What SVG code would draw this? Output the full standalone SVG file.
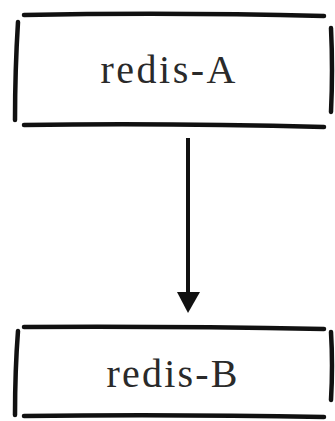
<svg xmlns="http://www.w3.org/2000/svg" width="335" height="421" viewBox="0 0 335 421">
<style>
.s{fill:none;stroke:#111;stroke-width:4.5;stroke-linecap:round;}
.t{font-family:"Liberation Serif","Times New Roman",serif;font-size:40px;fill:#2a2a2a;text-anchor:middle;}
</style>
<rect width="335" height="421" fill="#fff"/>
<g id="redis-A">
<path class="s" d="M24,15 Q170,12 324,16"/>
<path class="s" d="M18,22 Q15,70 15,120"/>
<path class="s" d="M24,125 Q170,123 324,127"/>
<path class="s" d="M331,28 Q333,70 331,112"/>
<text class="t" x="168" y="83" textLength="135" lengthAdjust="spacing">redis-A</text>
</g>
<g id="redis-B">
<path class="s" d="M24,327 Q170,326 324,329"/>
<path class="s" d="M18,331 Q15,370 15,415"/>
<path class="s" d="M24,416 Q170,414 324,417"/>
<path class="s" d="M331,332 Q333,365 331,400"/>
<text class="t" x="172" y="387" textLength="131" lengthAdjust="spacing">redis-B</text>
</g>
<g id="connectors">
<path d="M188,138 L188,296" fill="none" stroke="#111" stroke-width="4"/>
<path d="M177,292 L200,292 L188,313 Z" fill="#111"/>
</g>
</svg>
